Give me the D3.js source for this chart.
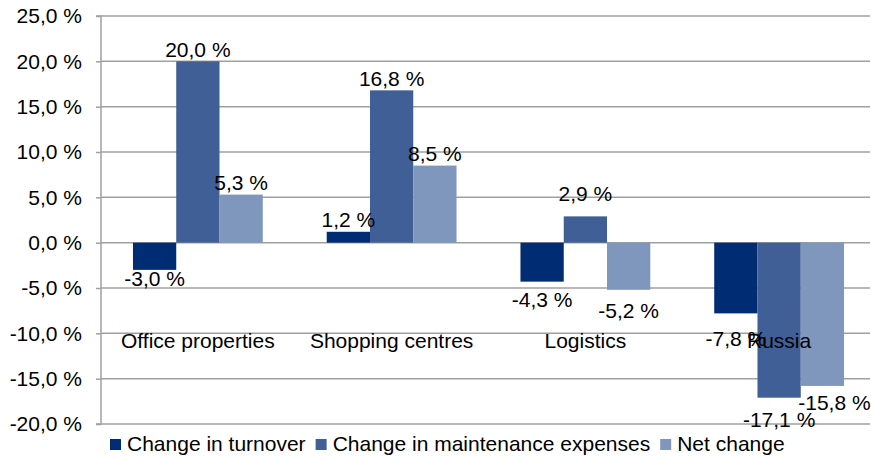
<!DOCTYPE html>
<html><head><meta charset="utf-8">
<script src="https://cdn.jsdelivr.net/npm/d3@7/dist/d3.min.js"></script>
<style>body{margin:0;background:#fff}svg{display:block}text{font-family:"Liberation Sans",Arial,sans-serif;fill:#000}</style>
</head><body><svg id="c" width="871" height="456"></svg>
<script>
const categories = ["Office properties","Shopping centres","Logistics","Russia"];
const seriesNames = ["Change in turnover","Change in maintenance expenses","Net change"];
const turnover = [-3.0, 1.2, -4.3, -7.8];
const maintenance = [20.0, 16.8, 2.9, -17.1];
const netChange = [5.3, 8.5, -5.2, -15.8];
const yTicks = [25,20,15,10,5,0,-5,-10,-15,-20];
const colors = ["#002C73","#3F5F96","#7F96BD"];

(function(){
const series = [turnover, maintenance, netChange];
const svg = d3.select("#c");
const pL = 101, pR = 876, pT = 16, pB = 424;
const FS = "21px";
const y = d3.scaleLinear().domain([-20,25]).range([pB, pT]);
const x0 = d3.scaleBand().domain(categories).range([pL, pR]).paddingInner(0.33).paddingOuter(0.165);
const x1 = d3.scaleBand().domain(d3.range(3)).range([0, x0.bandwidth()]);
const fmt = v => v.toFixed(1).replace(".", ",") + " %";
// label placement nudges (dx, dy) per series/category, mimicking the original's auto-placement
const nudge = [
  [[0,-10],[0,0],[0,-1],[0,7]],
  [[0,0],[0,0],[0,-11],[0,3]],
  [[0,0],[0,0],[0,2],[12,-2]]
];

// gridlines
svg.append("g").selectAll("line").data(yTicks).join("line")
  .attr("x1", pL).attr("x2", 870).attr("y1", d=>y(d)).attr("y2", d=>y(d))
  .attr("stroke", "#a0a0a0").attr("stroke-width", 1.5);

// y axis
const ax = svg.append("g").attr("transform", `translate(${pL},0)`)
  .call(d3.axisLeft(y).tickValues(yTicks).tickSize(5).tickPadding(14).tickFormat(fmt));
ax.select(".domain").attr("stroke", "#a0a0a0").attr("stroke-width", 1.5).attr("d", `M-5,${pT}H0V${pB}H-5`);
ax.selectAll(".tick line").attr("stroke", "#a0a0a0").attr("stroke-width", 1.5);
ax.selectAll(".tick text").style("font-size", FS).style("font-family", '"Liberation Sans",Arial,sans-serif').attr("fill", "#000");

// bars
series.forEach((vals, si) => {
  svg.append("g").selectAll("rect").data(vals).join("rect")
    .attr("x", (d,i) => x0(categories[i]) + x1(si))
    .attr("width", x1.bandwidth())
    .attr("y", d => y(Math.max(0,d)))
    .attr("height", d => Math.abs(y(d) - y(0)))
    .attr("fill", colors[si]);
});
// value labels
series.forEach((vals, si) => {
  svg.append("g").selectAll("text").data(vals).join("text")
    .attr("x", (d,i) => x0(categories[i]) + x1(si) + x1.bandwidth()/2 + nudge[si][i][0])
    .attr("y", (d,i) => (d >= 0 ? y(d) - 4.5 : y(d) + 26) + nudge[si][i][1])
    .attr("text-anchor", "middle").style("font-size", FS).text(d => fmt(d));
});

// category labels (drawn over bars)
svg.append("g").selectAll("text").data(categories).join("text")
  .attr("x", d => x0(d) + x0.bandwidth()/2).attr("y", 347.5)
  .attr("text-anchor", "middle").style("font-size", FS).text(d => d);

// legend
const lg = svg.append("g");
let lx = 110;
seriesNames.forEach((n, i) => {
  lg.append("rect").attr("x", lx).attr("y", 439).attr("width", 11).attr("height", 11).attr("fill", colors[i]);
  const t = lg.append("text").attr("x", lx + 17).attr("y", 451).style("font-size", FS).text(n);
  lx = lx + 17 + t.node().getComputedTextLength() + 10;
});
})();
</script></body></html>
